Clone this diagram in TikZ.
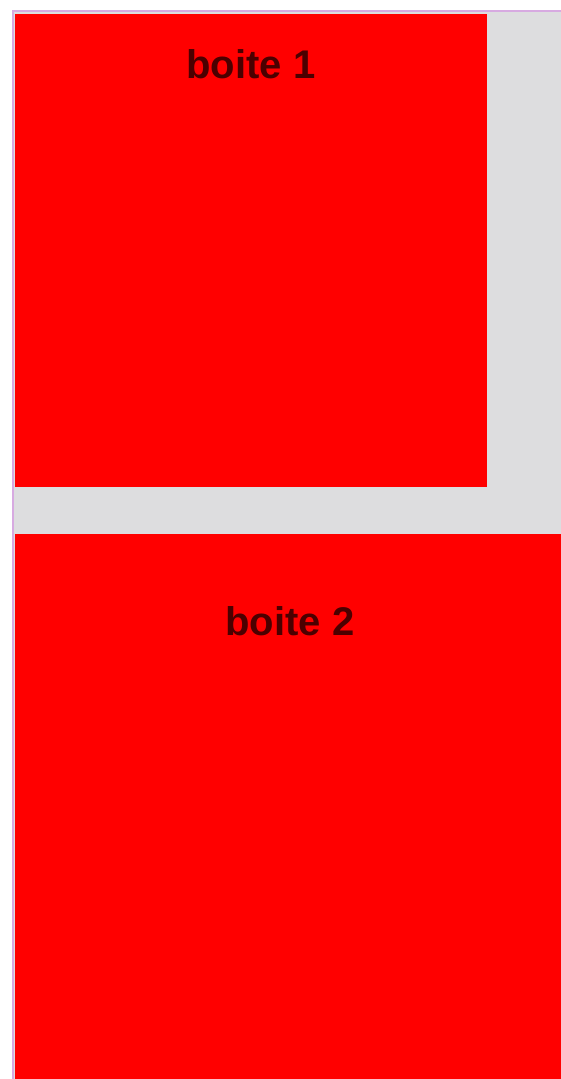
\documentclass[tikz,border=0pt]{standalone}
\usepackage{fontspec}
\setmainfont{Liberation Sans}
\usetikzlibrary{positioning}
\definecolor{boxred}{RGB}{255,0,0}
\definecolor{pagegray}{RGB}{221,221,223}
\definecolor{labeldark}{RGB}{75,0,0}
\definecolor{edgeviolet}{RGB}{215,170,225}
\begin{document}
\begin{tikzpicture}[x=1pt,y=-1pt,
    boite/.style={rectangle,fill=boxred,draw=none,inner sep=0pt,anchor=north west},
    boite label/.style={anchor=base,text=labeldark,font=\fontsize{40}{48}\selectfont\bfseries} ]
    \useasboundingbox (0,0) rectangle (561,1079);
    \fill [white] (0,0) rectangle (561,1079);
    \fill [pagegray] (13,11) rectangle (561,1079);
    \draw [edgeviolet,line width=1.5pt] (13,1079) -- (13,11) -- (561,11);
    \node [boite,minimum width=472pt,minimum height=473pt] (b1) at (15,14) {};
    \node [boite,minimum width=550pt,minimum height=546pt] (b2) at (15,534) {};
    \node [boite label] (t1) at (251,78) {boite 1};
    \node [boite label] (t2) at (290,635) {boite 2};
\end{tikzpicture}
\end{document}
